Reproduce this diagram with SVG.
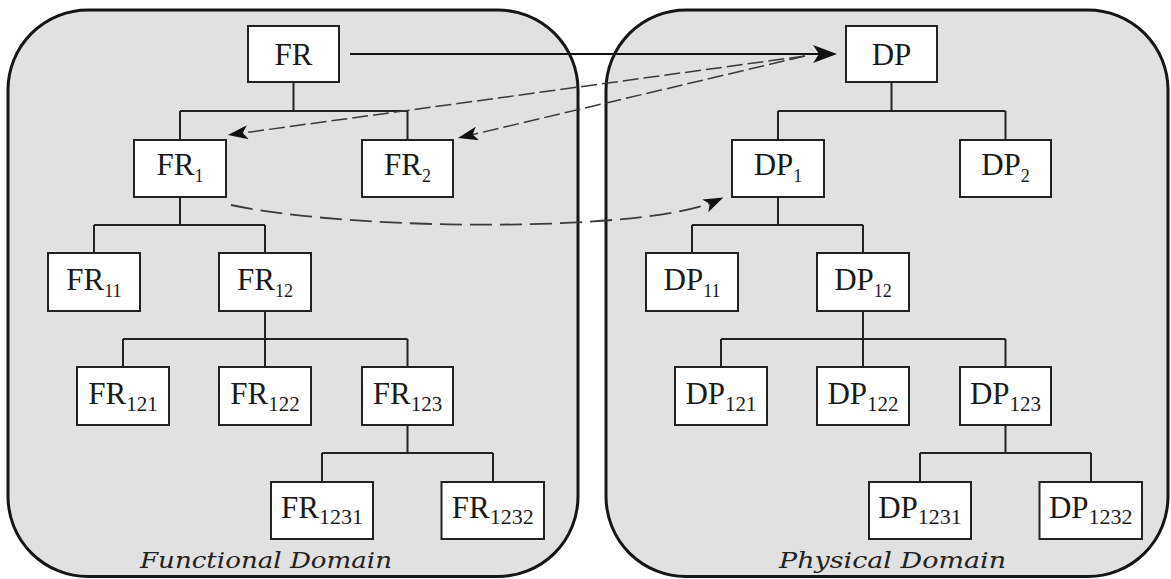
<svg xmlns="http://www.w3.org/2000/svg" width="1171" height="579" viewBox="0 0 1171 579">
<style>
.panel{fill:#e1e1e1;stroke:#151515;stroke-width:3}
.box{fill:#fff;stroke:#222;stroke-width:2}
.lbl{font-family:"Liberation Serif",serif;font-size:31px;fill:#1a1a1a;text-anchor:middle}
.s1{font-size:18px}
.s3{font-size:21px}
.s4{font-size:22px}
.tree{fill:none;stroke:#222;stroke-width:2}
.dom{font-family:"DejaVu Serif","Liberation Serif",serif;font-style:italic;font-size:22px;fill:#222;text-anchor:middle}
.solid{fill:none;stroke:#111;stroke-width:2}
.dash{fill:none;stroke:#3a3a3a;stroke-width:1.5;stroke-dasharray:16 5}
.dashc{fill:none;stroke:#3a3a3a;stroke-width:1.8;stroke-dasharray:22 8}
</style>
<defs>
<marker id="big" markerUnits="userSpaceOnUse" viewBox="0 0 24 18" markerWidth="24" markerHeight="18" refX="16" refY="9" orient="auto">
<path d="M0,0 L24,9 L0,18 L6,9 z" fill="#111"/>
</marker>
<marker id="small" markerUnits="userSpaceOnUse" viewBox="0 0 20 14" markerWidth="20" markerHeight="14" refX="13" refY="7" orient="auto">
<path d="M0,0 L20,7 L0,14 L5,7 z" fill="#111"/>
</marker>
</defs>

<g id="functional-domain">
<rect class="panel" x="8" y="10" width="570" height="566.5" rx="80" ry="80"/>
<text class="dom" x="266" y="568" textLength="252" lengthAdjust="spacingAndGlyphs">Functional Domain</text>
</g>
<g id="physical-domain">
<rect class="panel" x="606" y="10" width="562" height="566.5" rx="80" ry="80"/>
<text class="dom" x="892.5" y="568" textLength="227" lengthAdjust="spacingAndGlyphs">Physical Domain</text>
</g>

<g id="tree-connectors">
<path class="tree" d="M293.5,82 V111 M180,111 H407.5 M180,111 V140 M407.5,111 V140"/>
<path class="tree" d="M180,197 V225 M94,225 H265 M94,225 V253 M265,225 V253"/>
<path class="tree" d="M265,311 V339 M123,339 H407.5 M123,339 V367 M265,339 V367 M407.5,339 V367"/>
<path class="tree" d="M407.5,425 V453 M322,453 H493 M322,453 V482 M493,453 V482"/>
<path class="tree" d="M891.5,82 V111 M778,111 H1005.5 M778,111 V140 M1005.5,111 V140"/>
<path class="tree" d="M778,197 V225 M692,225 H863 M692,225 V253 M863,225 V253"/>
<path class="tree" d="M863,311 V339 M721,339 H1005.5 M721,339 V367 M863,339 V367 M1005.5,339 V367"/>
<path class="tree" d="M1005.5,425 V453 M920,453 H1091 M920,453 V482 M1091,453 V482"/>
</g>

<g id="FR"><rect class="box" x="248" y="26" width="91" height="56"/><text class="lbl" x="293.5" y="65">FR</text></g>
<g id="FR1"><rect class="box" x="134" y="140" width="92" height="57"/><text class="lbl" x="180" y="175">FR<tspan class="s1" dy="7">1</tspan></text></g>
<g id="FR2"><rect class="box" x="362" y="140" width="91" height="57"/><text class="lbl" x="407.5" y="175">FR<tspan class="s1" dy="7">2</tspan></text></g>
<g id="FR11"><rect class="box" x="48" y="253" width="92" height="58"/><text class="lbl" x="94" y="290">FR<tspan class="s1" dy="7">11</tspan></text></g>
<g id="FR12"><rect class="box" x="219" y="253" width="92" height="58"/><text class="lbl" x="265" y="290">FR<tspan class="s1" dy="7">12</tspan></text></g>
<g id="FR121"><rect class="box" x="77" y="367" width="92" height="58"/><text class="lbl" x="123" y="404">FR<tspan class="s3" dy="6.5">121</tspan></text></g>
<g id="FR122"><rect class="box" x="219" y="367" width="92" height="58"/><text class="lbl" x="265" y="404">FR<tspan class="s3" dy="6.5">122</tspan></text></g>
<g id="FR123"><rect class="box" x="362" y="367" width="91" height="58"/><text class="lbl" x="407.5" y="404">FR<tspan class="s3" dy="6.5">123</tspan></text></g>
<g id="FR1231"><rect class="box" x="271" y="482" width="102" height="57"/><text class="lbl" x="322" y="517.5">FR<tspan class="s4" dy="6.5">1231</tspan></text></g>
<g id="FR1232"><rect class="box" x="441.5" y="482" width="102.5" height="57"/><text class="lbl" x="492.7" y="517.5">FR<tspan class="s4" dy="6.5">1232</tspan></text></g>

<g id="DP"><rect class="box" x="846" y="26" width="91" height="56"/><text class="lbl" x="891.5" y="65">DP</text></g>
<g id="DP1"><rect class="box" x="732" y="140" width="92" height="57"/><text class="lbl" x="778" y="175">DP<tspan class="s1" dy="7">1</tspan></text></g>
<g id="DP2"><rect class="box" x="960" y="140" width="91" height="57"/><text class="lbl" x="1005.5" y="175">DP<tspan class="s1" dy="7">2</tspan></text></g>
<g id="DP11"><rect class="box" x="646" y="253" width="92" height="58"/><text class="lbl" x="692" y="290">DP<tspan class="s1" dy="7">11</tspan></text></g>
<g id="DP12"><rect class="box" x="817" y="253" width="92" height="58"/><text class="lbl" x="863" y="290">DP<tspan class="s1" dy="7">12</tspan></text></g>
<g id="DP121"><rect class="box" x="675" y="367" width="92" height="58"/><text class="lbl" x="721" y="404">DP<tspan class="s3" dy="6.5">121</tspan></text></g>
<g id="DP122"><rect class="box" x="817" y="367" width="92" height="58"/><text class="lbl" x="863" y="404">DP<tspan class="s3" dy="6.5">122</tspan></text></g>
<g id="DP123"><rect class="box" x="960" y="367" width="91" height="58"/><text class="lbl" x="1005.5" y="404">DP<tspan class="s3" dy="6.5">123</tspan></text></g>
<g id="DP1231"><rect class="box" x="869" y="482" width="102" height="57"/><text class="lbl" x="920" y="517.5">DP<tspan class="s4" dy="6.5">1231</tspan></text></g>
<g id="DP1232"><rect class="box" x="1039.5" y="482" width="102.5" height="57"/><text class="lbl" x="1090.7" y="517.5">DP<tspan class="s4" dy="6.5">1232</tspan></text></g>

<g id="mapping-connectors">
<path class="solid" d="M350,54 H829" marker-end="url(#big)"/>
<path class="dash" d="M805,56 L234.9,134.05" marker-end="url(#small)"/>
<path class="dash" d="M805,56 L464.8,136.4" marker-end="url(#small)"/>
<path class="dashc" d="M231,205 C360,232 650,232 717,200.4" marker-end="url(#small)"/>
</g>
</svg>
